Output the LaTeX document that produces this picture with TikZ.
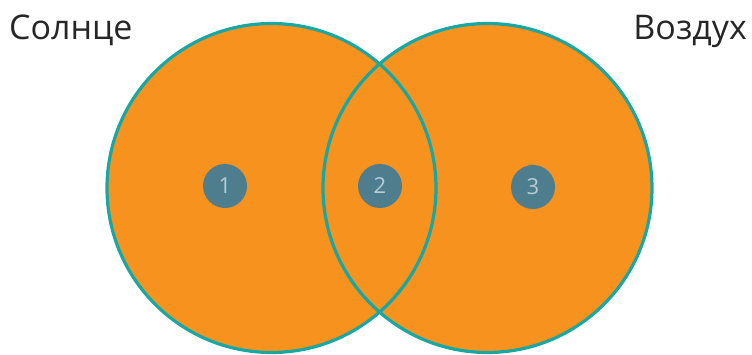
\documentclass[tikz,border=0pt]{standalone}
\usepackage{fontspec}
\setmainfont{Open Sans}
\definecolor{fillor}{HTML}{F7921E}
\definecolor{ringteal}{HTML}{17A8A4}
\definecolor{dotblue}{HTML}{4E7E8E}
\definecolor{numgray}{HTML}{B7CCD4}
\begin{document}
\begin{tikzpicture}[x=1pt,y=-1pt,
  bigset/.style={circle,minimum size=329pt,inner sep=0pt},
  marker/.style={circle,fill=dotblue,minimum size=44pt,inner sep=0pt,text=numgray,font=\fontsize{22}{22}\selectfont},
  setlabel/.style={font=\fontsize{34}{34}\selectfont,text=black!85,inner sep=0pt}]
\useasboundingbox (0,0) rectangle (752,354);
\fill[fillor] (271.5,188) circle (164.5);
\fill[fillor] (487.5,188) circle (164.5);
\node[bigset,draw=ringteal,line width=3.2pt] (L) at (271.5,188) {};
\node[bigset,draw=ringteal,line width=3.2pt] (R) at (487.5,188) {};
\node[marker] (m1) at (225,186) {1};
\node[marker] (m2) at (380,186) {2};
\node[marker] (m3) at (533,187) {3};
\node[setlabel,anchor=base west] (s) at (9,39) {Солнце};
\node[setlabel,anchor=base east] (v) at (747,39) {Воздух};
\end{tikzpicture}
\end{document}
